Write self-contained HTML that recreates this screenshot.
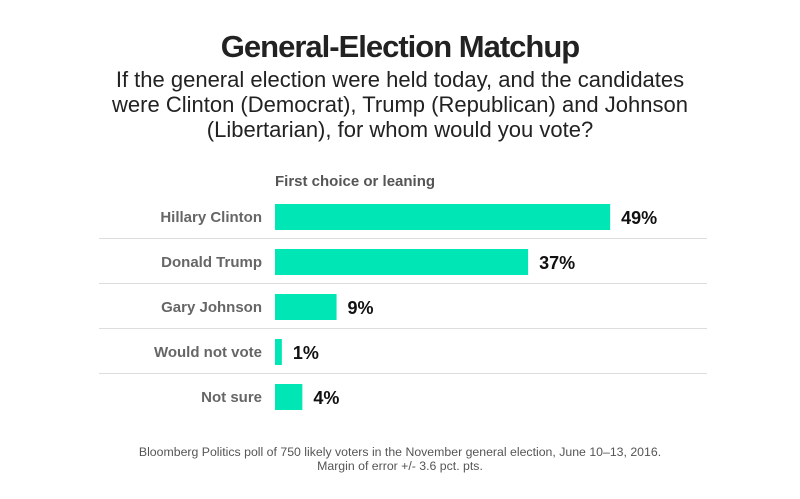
<!DOCTYPE html>
<html><head><meta charset="utf-8"><style>
body{margin:0;background:#fff;}
svg{display:block;font-family:"Liberation Sans",Arial,sans-serif;}
</style></head><body>
<svg width="800" height="499" viewBox="0 0 800 499">
<text x="400" y="57" text-anchor="middle" font-size="31" font-weight="bold" fill="#222" letter-spacing="-1">General-Election Matchup</text>
<g font-size="22" fill="#222" text-anchor="middle">
<text x="400" y="87">If the general election were held today, and the candidates</text>
<text x="400" y="112">were Clinton (Democrat), Trump (Republican) and Johnson</text>
<text x="400" y="137">(Libertarian), for whom would you vote?</text>
</g>
<text x="275" y="186" font-size="15" font-weight="bold" fill="#555">First choice or leaning</text>
<g id="bars"></g>
<g font-size="12.3" fill="#555" text-anchor="middle">
<text x="400" y="456">Bloomberg Politics poll of 750 likely voters in the November general election, June 10–13, 2016.</text>
<text x="400" y="470">Margin of error +/- 3.6 pct. pts.</text>
</g>
</svg>
<script>
const categories=["Hillary Clinton","Donald Trump","Gary Johnson","Would not vote","Not sure"];
const values=[49,37,9,1,4];
const ns="http://www.w3.org/2000/svg";
const g=document.getElementById("bars");
const x0=275,pxPer=6.84,rowTop=204,rowH=45,barH=26;
const xs=v=>v*pxPer;
function mk(tag,attrs){const e=document.createElementNS(ns,tag);for(const k in attrs)e.setAttribute(k,attrs[k]);return e;}
categories.forEach((c,i)=>{
  const y=rowTop+i*rowH;
  if(i<categories.length-1){
    const l=mk("line",{x1:99,x2:707,y1:y+34.5,y2:y+34.5,stroke:"#ddd","stroke-width":1});
    
    
    g.appendChild(l);
  }
  const lab=mk("text",{x:262,y:y+18,"text-anchor":"end","font-size":15,"font-weight":"bold",fill:"#666"});
  lab.textContent=c;
  
  
  g.appendChild(lab);
  const r=mk("rect",{x:x0,y:y,width:xs(values[i]),height:barH,fill:"#00e6b4"});
  
  
  g.appendChild(r);
  const v=mk("text",{x:x0+xs(values[i])+11,y:y+20,"font-size":18,"font-weight":"bold",fill:"#111"});
  v.textContent=values[i]+"%";
  
  
  g.appendChild(v);
});
</script>
</body></html>
